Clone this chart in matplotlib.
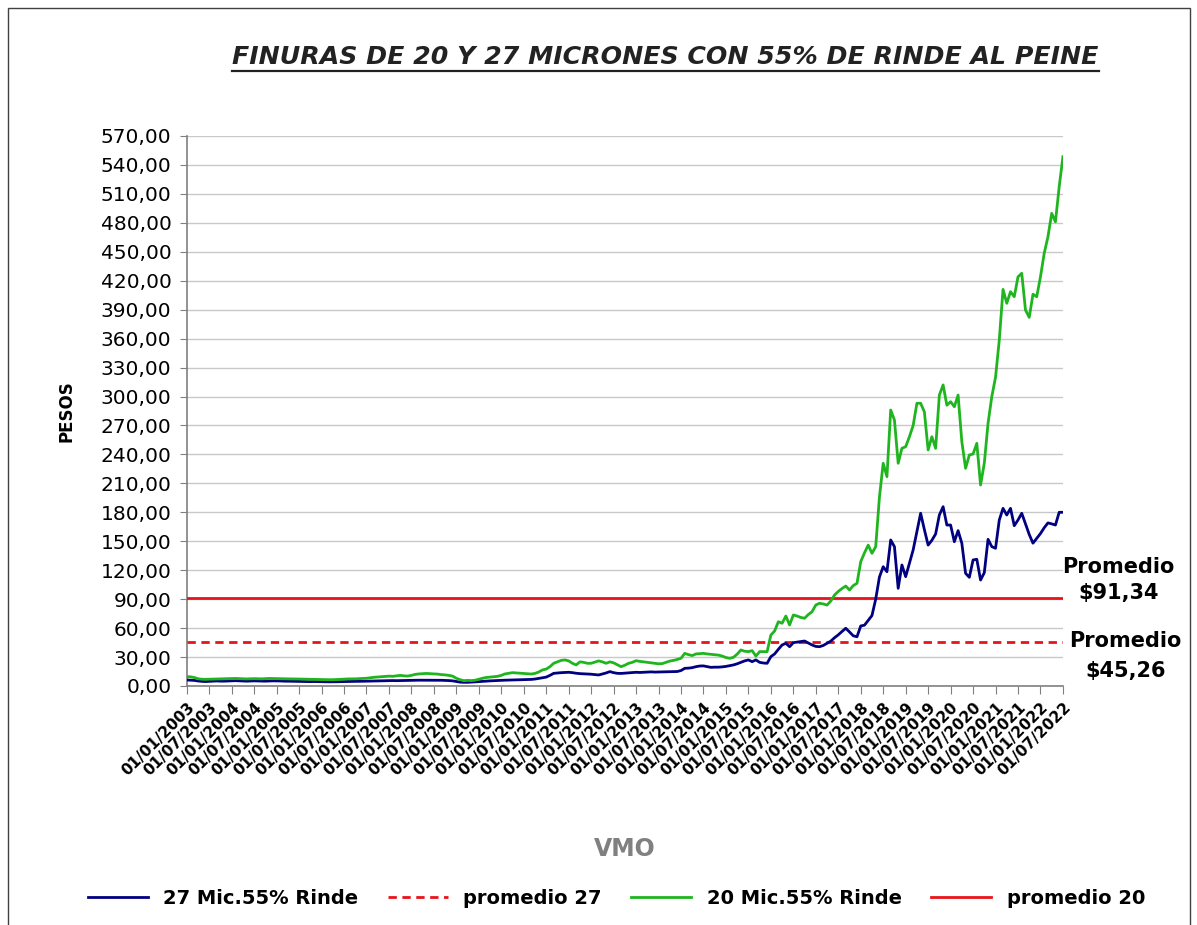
import matplotlib
matplotlib.use("Agg")
import matplotlib.pyplot as plt
from matplotlib.lines import Line2D
from matplotlib.patches import Rectangle
from matplotlib.ticker import FuncFormatter, MultipleLocator

# valores mensuales (ene-2003 .. jul-2022), $ por kg
mic27 = [
    6.2, 6.0, 5.8, 5.2, 4.8, 4.6, 4.8, 5.0, 5.2, 5.0, 5.0, 5.2,            # 2003
    5.3, 5.5, 5.3, 5.0, 5.0, 5.2, 5.3, 5.2, 5.0, 5.0, 5.2, 5.3,            # 2004
    5.3, 5.2, 5.0, 5.0, 4.9, 4.8, 4.8, 4.7, 4.6, 4.5, 4.6, 4.5,            # 2005
    4.5, 4.4, 4.3, 4.3, 4.4, 4.5, 4.6, 4.6, 4.7, 4.8, 4.8, 4.9,            # 2006
    5.0, 5.0, 5.1, 5.2, 5.3, 5.5, 5.6, 5.6, 5.5, 5.6, 5.7, 5.8,            # 2007
    5.8, 5.9, 6.0, 6.0, 6.0, 6.1, 6.1, 6.0, 5.9, 5.8, 5.6, 5.3,            # 2008
    4.6, 4.0, 3.8, 3.8, 4.0, 4.2, 4.5, 4.8, 5.0, 5.3, 5.5, 5.6,            # 2009
    5.8, 6.0, 6.1, 6.2, 6.2, 6.3, 6.4, 6.6, 6.8, 7.2, 7.8, 8.5,            # 2010
    9.2, 11.0, 13.1, 13.5, 13.8, 14.0, 14.2, 13.8, 13.2, 12.8, 12.6, 12.4,  # 2011
    12.2, 11.8, 11.4, 12.5, 13.5, 14.9, 13.8, 13.1, 13.0, 13.3, 13.6, 13.8,  # 2012
    14.2, 14.0, 14.2, 14.5, 14.6, 14.4, 14.5, 14.6, 14.7, 14.8, 14.9, 15.0,  # 2013
    16.0, 18.3, 18.5, 19.0, 20.0, 20.7, 20.8, 20.0, 19.3, 19.5, 19.5, 19.8,  # 2014
    20.3, 21.0, 21.8, 23.0, 24.5, 26.0, 27.0, 25.2, 27.0, 24.5, 23.8, 23.5,  # 2015
    30.4, 33.2, 38.0, 42.5, 44.2, 40.7, 44.9, 45.5, 46.0, 46.6, 44.5, 42.5,  # 2016
    41.0, 40.7, 42.0, 44.2, 46.5, 50.0, 53.0, 56.5, 59.8, 56.0, 52.0, 51.0,  # 2017
    62.2, 63.0, 68.0, 73.0, 90.0, 113.0, 123.6, 118.4, 151.3, 144.4, 101.2, 125.4,  # 2018
    113.3, 127.0, 141.0, 160.0, 179.0, 162.0, 146.0, 151.0, 157.5, 177.2, 185.8, 166.8,  # 2019
    166.8, 149.5, 161.0, 147.9, 116.8, 112.6, 130.6, 131.3, 109.8, 117.4, 152.0, 144.4,  # 2020
    142.7, 172.0, 184.1, 177.2, 184.1, 166.1, 172.0, 179.0, 168.0, 157.0, 148.0, 153.0,  # 2021
    158.0, 164.0, 169.0, 168.0, 166.8, 180.0, 180.0,                        # 2022
]
mic20 = [
    9.6, 9.5, 8.8, 7.5, 7.0, 6.9, 7.0, 7.2, 7.3, 7.2, 7.3, 7.5,            # 2003
    7.6, 7.8, 7.6, 7.4, 7.3, 7.5, 7.6, 7.5, 7.4, 7.6, 7.8, 7.7,            # 2004
    7.7, 7.5, 7.5, 7.4, 7.3, 7.3, 7.2, 7.1, 7.0, 6.9, 6.8, 6.8,            # 2005
    6.7, 6.6, 6.5, 6.5, 6.7, 7.0, 7.2, 7.3, 7.3, 7.4, 7.6, 7.8,            # 2006
    8.0, 8.5, 9.0, 9.3, 9.6, 10.0, 10.2, 10.0, 10.5, 11.0, 10.5, 10.3,      # 2007
    11.0, 12.0, 12.5, 12.8, 13.0, 12.8, 12.5, 12.3, 11.8, 11.5, 11.0, 10.2,  # 2008
    8.0, 6.5, 5.5, 5.8, 5.6, 6.0, 7.0, 8.0, 8.8, 9.2, 9.6, 10.0,           # 2009
    11.0, 12.5, 13.2, 13.8, 13.5, 13.2, 13.0, 12.6, 12.4, 13.0, 14.5, 16.6,  # 2010
    17.5, 20.0, 23.5, 25.0, 26.5, 27.0, 26.0, 23.5, 21.8, 25.0, 24.5, 23.5,  # 2011
    23.5, 24.8, 26.0, 25.0, 23.5, 25.0, 24.0, 22.0, 20.0, 21.5, 23.5, 24.5,  # 2012
    26.2, 25.5, 25.0, 24.5, 24.0, 23.5, 23.0, 23.2, 24.5, 25.8, 26.5, 27.5,  # 2013
    28.7, 33.8, 32.5, 31.5, 33.2, 33.5, 33.8, 33.2, 32.8, 32.5, 32.0, 31.0,  # 2014
    29.5, 28.7, 29.7, 33.0, 37.3, 36.0, 35.6, 36.6, 31.0, 35.6, 35.6, 35.6,  # 2015
    52.8, 57.0, 66.6, 65.0, 72.5, 63.2, 73.6, 72.5, 71.0, 70.2, 74.0, 77.0,  # 2016
    83.9, 85.7, 85.0, 83.9, 88.0, 94.3, 98.0, 101.0, 103.6, 99.5, 104.0, 106.4,  # 2017
    128.8, 138.0, 146.0, 137.5, 144.4, 196.0, 230.8, 216.9, 286.0, 275.6, 230.8, 246.3,  # 2018
    248.0, 258.3, 270.0, 293.0, 293.0, 284.0, 244.6, 258.3, 246.3, 301.5, 312.0, 291.0,  # 2019
    294.6, 289.4, 301.5, 253.2, 225.6, 239.4, 240.4, 251.5, 208.3, 230.8, 272.2, 299.8,  # 2020
    320.0, 358.5, 411.0, 396.6, 408.6, 403.4, 424.0, 427.7, 389.6, 382.0, 406.0, 403.4,  # 2021
    424.0, 448.4, 465.6, 489.8, 481.0, 517.4, 548.5,                        # 2022
]
promedio_27 = 45.26
promedio_20 = 91.34
years = list(range(2003, 2023))
tick_labels = []
for y in years:
    tick_labels += [f"01/01/{y}", f"01/07/{y}"]

NAVY = "#000080"
GREEN = "#1fb51f"
RED = "#e8141b"

fig = plt.figure(figsize=(11.97, 9.25), dpi=100)
ax = fig.add_axes([0.156, 0.2584, 0.732, 0.5946])

x = list(range(len(mic27)))
ax.plot(x, mic27, color=NAVY, lw=2.0, label="27 Mic.55% Rinde", zorder=4)
ax.axhline(promedio_27, color=RED, lw=2.0, ls=(0, (3, 2)), label="promedio 27", zorder=3)
ax.plot(x, mic20, color=GREEN, lw=2.0, label="20 Mic.55% Rinde", zorder=4)
ax.axhline(promedio_20, color=RED, lw=2.0, label="promedio 20", zorder=3)

ax.set_xlim(0, len(mic27) - 1)
ax.set_ylim(0, 570)
ax.yaxis.set_major_locator(MultipleLocator(30))
ax.yaxis.set_major_formatter(FuncFormatter(lambda v, p: f"{v:.2f}".replace(".", ",")))
ax.set_xticks(list(range(0, len(mic27), 6)))
ax.set_xticklabels(tick_labels[:len(ax.get_xticks())], rotation=45, ha="right",
                   rotation_mode="anchor", fontsize=11, fontweight="bold")
ax.tick_params(axis="y", labelsize=14.5, length=5, color="#808080", pad=6)
ax.tick_params(axis="x", length=6, color="#808080", pad=4)

ax.grid(axis="y", color="#c8c8c8", lw=1)
ax.set_axisbelow(True)
for s in ["top", "right"]:
    ax.spines[s].set_visible(False)
for s in ["left", "bottom"]:
    ax.spines[s].set_color("#808080")
    ax.spines[s].set_linewidth(1.2)

ax.set_ylabel("PESOS", fontsize=12, fontweight="bold", labelpad=18)
ax.set_xlabel("VMO", fontsize=17, fontweight="bold", color="#808080", labelpad=42)

ax.text(1.063, 109.8, "Promedio\n$91,34", transform=ax.get_yaxis_transform(),
        ha="center", va="center", fontsize=15, fontweight="bold",
        linespacing=1.35, clip_on=False)
ax.text(1.071, 31.0, "Promedio\n$45,26", transform=ax.get_yaxis_transform(),
        ha="center", va="center", fontsize=15, fontweight="bold",
        linespacing=1.6, clip_on=False)

title = fig.text(0.556, 0.938, "FINURAS DE 20 Y 27 MICRONES CON 55% DE RINDE AL PEINE",
                 ha="center", va="center", fontsize=18.2, fontweight="bold",
                 fontstyle="italic", color="#222222")

fig.legend(loc="center", bbox_to_anchor=(0.515, 0.029), ncol=4, frameon=False,
           prop={"weight": "bold", "size": 14}, handlelength=3.1,
           handletextpad=0.8, columnspacing=1.5)

# marco de la figura
fig.patches.append(Rectangle((8 / 1197, -0.01), 1182 / 1197, 1 - 8 / 925 + 0.01,
                             transform=fig.transFigure, fill=False,
                             edgecolor="#404040", lw=1))

# subrayado del titulo
fig.canvas.draw()
bb = title.get_window_extent().transformed(fig.transFigure.inverted())
fig.add_artist(Line2D([bb.x0, bb.x1], [bb.y0 - 0.002, bb.y0 - 0.002],
                      transform=fig.transFigure, color="#222222", lw=1.6))

fig.savefig("out.png", dpi=100)
